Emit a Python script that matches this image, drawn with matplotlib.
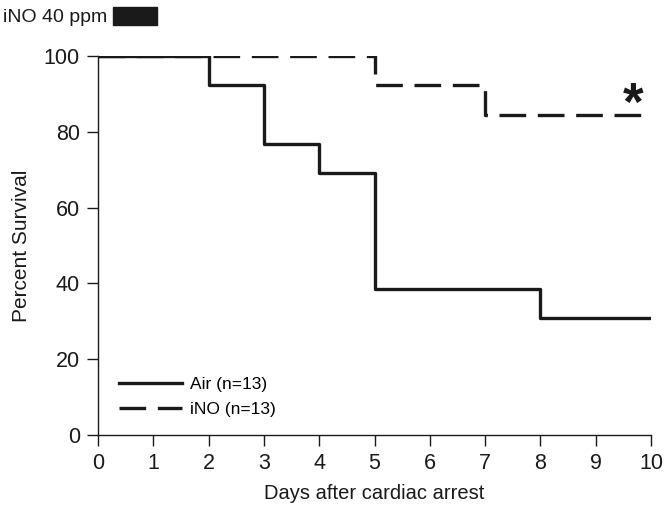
import matplotlib
matplotlib.use("Agg")
import matplotlib.pyplot as plt
from matplotlib.patches import Rectangle

plt.rcParams["font.family"] = ["Liberation Sans", "DejaVu Sans"]

# Kaplan-Meier survival steps
air_days = [0, 2, 3, 4, 5, 8, 10]
air_surv = [100, 92.3, 76.9, 69.2, 38.5, 30.8, 30.8]
ino_days = [0, 5, 7, 10]
ino_surv = [100, 92.3, 84.6, 84.6]

xticks = list(range(0, 11))
yticks = [0, 20, 40, 60, 80, 100]

fig = plt.figure(figsize=(6.67, 5.16), dpi=100)
ax = fig.add_axes([0.147, 0.157, 0.829, 0.734])

ax.step(air_days, air_surv, where="post", color="#1a1a1a", lw=2.4,
        label="Air (n=13)")
ax.step(ino_days, ino_surv, where="post", color="#1a1a1a", lw=2.4,
        dashes=(8, 3.5), label="iNO (n=13)")

ax.set_xlim(0, 10)
ax.set_ylim(0, 100)
ax.set_xticks(xticks)
ax.set_yticks(yticks)
ax.tick_params(direction="out", length=8, width=1, labelsize=15.5, pad=5,
               colors="#1a1a1a")
for side in ["top", "right"]:
    ax.spines[side].set_visible(False)
for side in ["left", "bottom"]:
    ax.spines[side].set_linewidth(1)
    ax.spines[side].set_color("#1a1a1a")

ax.set_xlabel("Days after cardiac arrest", fontsize=14.5, color="#1a1a1a",
              labelpad=7)
ax.set_ylabel("Percent Survival", fontsize=15, color="#1a1a1a", labelpad=9)

ax.legend(loc="lower left", bbox_to_anchor=(0.01, 0.005), frameon=False,
          fontsize=12.5, handlelength=3.6, handletextpad=0.45,
          labelspacing=0.6)

ax.text(9.67, 87, "*", fontsize=38, fontweight="bold", ha="center",
        va="center", color="#1a1a1a")

fig.text(0.005, 0.967, "iNO 40 ppm", fontsize=14, va="center", ha="left",
         color="#1a1a1a")
fig.add_artist(Rectangle((0.170, 0.952), 0.066, 0.034,
                         transform=fig.transFigure, color="#1a1a1a"))

fig.savefig("out.png", dpi=100)
